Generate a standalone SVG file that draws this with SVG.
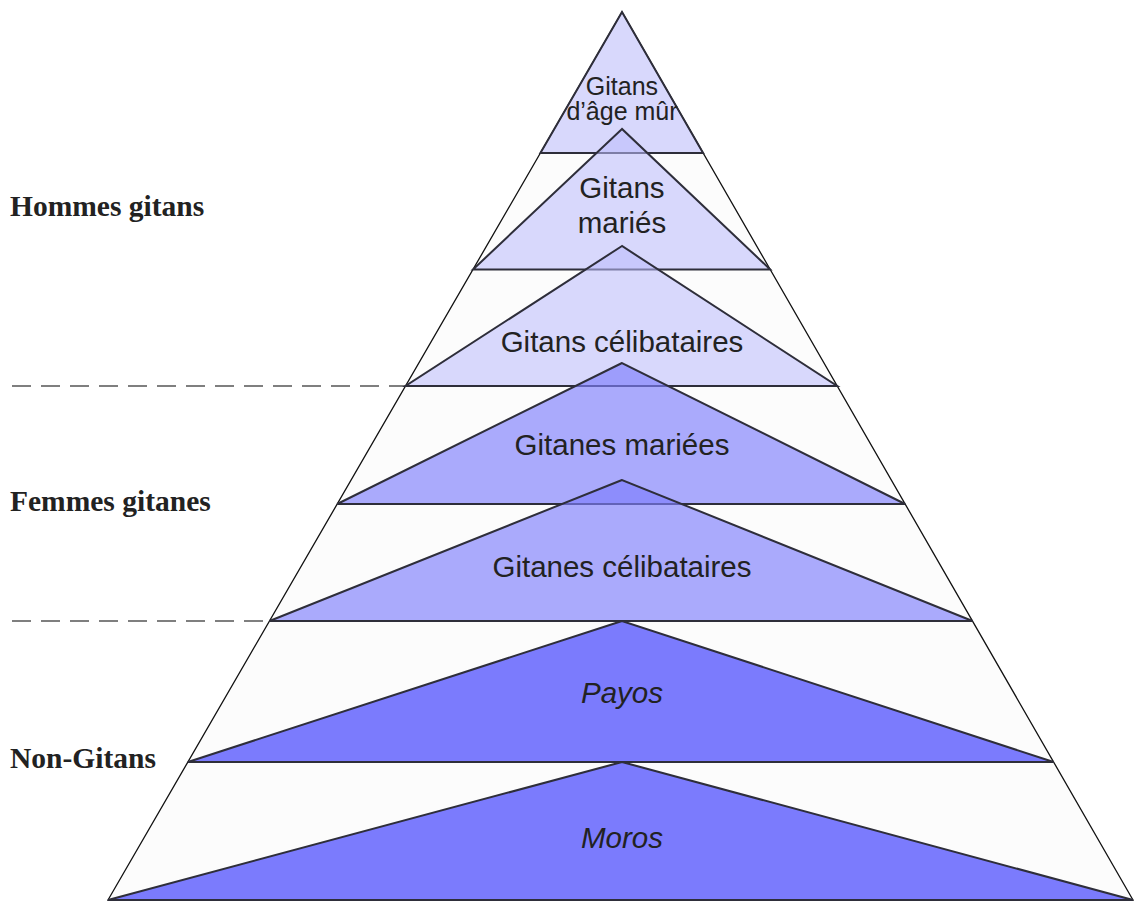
<svg xmlns="http://www.w3.org/2000/svg" width="1135" height="901" viewBox="0 0 1135 901">
<style>
.tri{stroke:#2e2e3a;stroke-width:2;stroke-linejoin:miter}
.g1{fill:rgb(187,187,252);fill-opacity:0.56}
.g2{fill:rgb(126,126,252);fill-opacity:0.65}
.g3{fill:rgb(123,123,253)}
.lbl{font-family:"Liberation Sans",Arial,sans-serif;font-size:29.5px;fill:#222;text-anchor:middle}
.side{font-family:"Liberation Serif","Times New Roman",serif;font-weight:bold;font-size:29.5px;fill:#222}
.dash{stroke:#555;stroke-width:1.5;stroke-dasharray:19 10;fill:none}
</style>
<rect width="1135" height="901" fill="#ffffff"/>
<g id="pyramid">
<polygon points="622,12 108,900 1133,900" fill="#fcfcfc" stroke="#111" stroke-width="1.3"/>
</g>
<g id="connectors">
<line class="dash" x1="12" y1="386" x2="405" y2="386"/>
<line class="dash" x1="12" y1="621" x2="269" y2="621"/>
</g>
<g id="gitans-age-mur">
<polygon class="tri g1" points="622,12 540.4,153 703.1,153"/>
</g>
<g id="gitans-maries">
<polygon class="tri g1" points="622,129 473,269.5 770.2,269.5"/>
</g>
<g id="gitans-celibataires">
<polygon class="tri g1" points="622,246 405.5,386 837.2,386"/>
</g>
<g id="gitanes-mariees">
<polygon class="tri g2" points="622,363 337.2,504 905.1,504"/>
</g>
<g id="gitanes-celibataires">
<polygon class="tri g2" points="622,480 269.5,621 972.5,621"/>
</g>
<g id="payos">
<polygon class="tri g3" points="622,621 187.9,762 1053.6,762"/>
</g>
<g id="moros">
<polygon class="tri g3" points="622,762 108,900 1133,900"/>
</g>
<g id="labels">
<text class="lbl" x="622" y="95" style="font-size:25px">Gitans</text>
<text class="lbl" x="622" y="120" style="font-size:25px">d’âge mûr</text>
<text class="lbl" x="622" y="198">Gitans</text>
<text class="lbl" x="622" y="233">mariés</text>
<text class="lbl" x="622" y="352">Gitans célibataires</text>
<text class="lbl" x="622" y="455">Gitanes mariées</text>
<text class="lbl" x="622" y="577">Gitanes célibataires</text>
<text class="lbl" x="622" y="703" font-style="italic">Payos</text>
<text class="lbl" x="622" y="848" font-style="italic">Moros</text>
</g>
<g id="side-labels">
<text class="side" x="10" y="216">Hommes gitans</text>
<text class="side" x="10" y="511">Femmes gitanes</text>
<text class="side" x="10" y="768">Non-Gitans</text>
</g>
</svg>
